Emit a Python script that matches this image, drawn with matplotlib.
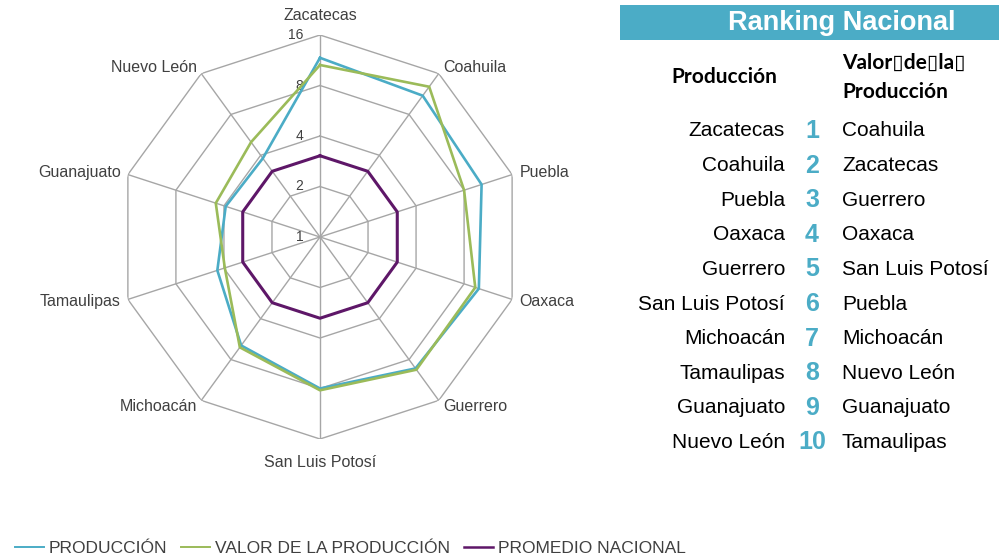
import numpy as np
import matplotlib
matplotlib.use("Agg")
import matplotlib.pyplot as plt
from matplotlib.patches import Rectangle
from matplotlib.lines import Line2D

# estados en el orden del radar (sentido horario desde arriba)
estados = ["Zacatecas", "Coahuila", "Puebla", "Oaxaca", "Guerrero",
           "San Luis Potosí", "Michoacán", "Tamaulipas", "Guanajuato", "Nuevo León"]
produccion = [11.7, 11.0, 10.3, 9.9, 9.3, 8.0, 6.3, 4.4, 3.9, 3.8]
valor_produccion = [10.6, 12.8, 8.0, 9.4, 9.5, 8.2, 6.5, 3.95, 4.5, 5.0]
promedio_nacional = [3.05] * 10
escala = [1, 2, 4, 8, 16]

# ranking nacional
rank_produccion = ["Zacatecas", "Coahuila", "Puebla", "Oaxaca", "Guerrero",
                   "San Luis Potosí", "Michoacán", "Tamaulipas", "Guanajuato", "Nuevo León"]
rank_valor = ["Coahuila", "Zacatecas", "Guerrero", "Oaxaca", "San Luis Potosí",
              "Puebla", "Michoacán", "Nuevo León", "Guanajuato", "Tamaulipas"]

AZUL = "#4BACC6"
VERDE = "#9BBB59"
MORADO = "#5E1768"
GRIS = "#A6A6A6"
TEXTO = "#404040"

W, H = 999, 558
fig = plt.figure(figsize=(W / 100, H / 100), dpi=100)

# radar centrado en (320, 237) px, radio ~202 px
cx, cy, rad = 320, 237, 202
ax = fig.add_axes([(cx - rad) / W, 1 - (cy + rad) / H, 2 * rad / W, 2 * rad / H],
                  projection="polar")
ax.set_theta_offset(np.pi / 2)
ax.set_theta_direction(-1)
rmax = np.log2(escala[-1])
ax.set_ylim(0, rmax)
ax.grid(False)
ax.spines["polar"].set_visible(False)
ax.set_xticks([])
ax.set_yticks([])
ax.patch.set_visible(False)

n = len(estados)
ang = np.arange(n) * 2 * np.pi / n
ang_c = np.append(ang, ang[0])

# rejilla poligonal
for v in escala[1:]:
    ax.plot(ang_c, [np.log2(v)] * (n + 1), color=GRIS, lw=1.0, zorder=1)
for a in ang:
    ax.plot([a, a], [0, rmax], color=GRIS, lw=1.0, zorder=1)

for v in escala:
    ax.annotate(str(v), (0, np.log2(v)), xytext=(-12, 0), textcoords="offset points",
                ha="right", va="center", fontsize=10, color=TEXTO,
                family="Liberation Sans")


def cerrar(vals):
    r = np.log2(vals)
    return np.append(r, r[0])


ax.plot(ang_c, cerrar(produccion), color=AZUL, lw=1.9, zorder=3)
ax.plot(ang_c, cerrar(valor_produccion), color=VERDE, lw=1.9, zorder=4)
ax.plot(ang_c, cerrar(promedio_nacional), color=MORADO, lw=2.2, zorder=5)

# etiquetas de categorías
for a, nombre in zip(ang, estados):
    s = np.sin(a)
    if abs(s) < 0.1:
        off = 0.38 if np.cos(a) > 0 else 0.46
        ax.text(a, rmax + off, nombre, ha="center", va="center", fontsize=11.5,
                color=TEXTO, family="Liberation Sans")
    else:
        ax.text(a, rmax + 0.15, nombre, ha="left" if s > 0 else "right", va="center",
                fontsize=11.5, color=TEXTO, family="Liberation Sans")

# leyenda
handles = [Line2D([], [], color=AZUL, lw=1.4),
           Line2D([], [], color=VERDE, lw=1.4),
           Line2D([], [], color=MORADO, lw=1.8)]
fig.legend(handles, ["PRODUCCIÓN", "VALOR DE LA PRODUCCIÓN", "PROMEDIO NACIONAL"],
           loc="center left", bbox_to_anchor=(0.006, 1 - 548 / H), ncol=3, frameon=False,
           prop={"family": "Liberation Sans", "size": 12.5}, labelcolor=TEXTO,
           handlelength=1.7, handletextpad=0.25, columnspacing=0.8, borderpad=0)

# panel de ranking
fig.patches.append(Rectangle((620 / W, 1 - 40 / H), 1 - 620 / W, 35 / H,
                             transform=fig.transFigure, facecolor=AZUL, edgecolor="none"))
fig.text(842 / W, 1 - 23 / H, "Ranking Nacional", ha="center", va="center",
         fontsize=19.5, fontweight="bold", color="white", family="Liberation Sans")

cab = dict(fontsize=15, fontweight="bold", color="black", family=["Lato", "DejaVu Sans"])
fig.text(724 / W, 1 - 77 / H, "Producción", ha="center", va="center", **cab)
fig.text(842 / W, 1 - 63 / H, "Valor\u25afde\u25afla\u25af", ha="left", va="center", **cab)
fig.text(842 / W, 1 - 92 / H, "Producción", ha="left", va="center", **cab)

for i, (p, v) in enumerate(zip(rank_produccion, rank_valor)):
    y = 1 - (131 + i * 34.6) / H
    fig.text(785 / W, y, p, ha="right", va="center", fontsize=15,
             color="black", family="Liberation Sans")
    fig.text(812 / W, y, str(i + 1), ha="center", va="center", fontsize=18,
             fontweight="bold", color=AZUL, family="Liberation Sans")
    fig.text(842 / W, y, v, ha="left", va="center", fontsize=15,
             color="black", family="Liberation Sans")

fig.savefig("out.png", dpi=100, facecolor="white")
